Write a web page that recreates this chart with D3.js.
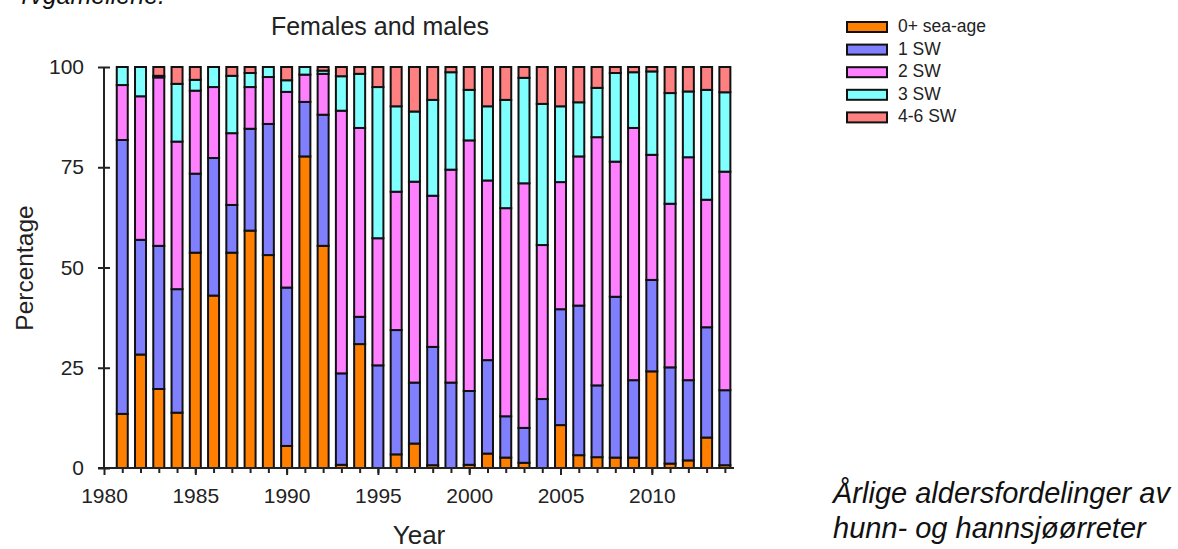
<!DOCTYPE html>
<html>
<head>
<meta charset="utf-8">
<script src="https://cdn.jsdelivr.net/npm/d3@7"></script>
<style>
html, body { margin: 0; padding: 0; background: #fff; }
svg { display: block; font-family: "Liberation Sans", Arial, sans-serif; }
</style>
</head>
<body>
<svg id="chart" width="1178" height="549"></svg>
<script>
const years = d3.range(1981, 2015);
const seriesNames = ["0+ sea-age", "1 SW", "2 SW", "3 SW", "4-6 SW"];
const seriesColors = ["#FF8000", "#8080FF", "#FF80FF", "#80FFFF", "#FF8080"];
const sea0 = [13.5, 28.3, 19.7, 13.8, 53.7, 43.0, 53.7, 59.2, 53.1, 5.5, 77.7, 55.4, 0.8, 30.9, 0, 3.4, 6.1, 0.7, 0, 0.8, 3.6, 2.6, 1.3, 0, 10.7, 3.2, 2.7, 2.6, 2.6, 24.1, 1.1, 1.9, 7.6, 0.7];
const sw1 = [68.3, 28.6, 35.7, 30.8, 19.7, 34.3, 11.9, 25.4, 32.7, 39.5, 13.6, 32.7, 22.8, 6.8, 25.6, 31.0, 15.2, 29.5, 21.3, 18.4, 23.3, 10.3, 8.7, 17.2, 28.9, 37.3, 17.9, 40.1, 19.3, 22.8, 24.0, 20.0, 27.5, 18.7];
const sw2 = [13.7, 35.8, 42.0, 36.8, 20.7, 17.7, 17.9, 10.4, 11.7, 48.8, 6.8, 10.2, 65.5, 47.1, 31.7, 34.5, 50.1, 37.7, 53.1, 62.5, 44.8, 51.9, 61.0, 38.4, 31.7, 37.2, 61.9, 33.7, 62.9, 31.2, 40.8, 55.6, 31.8, 54.5];
const sw3 = [4.5, 7.3, 0.4, 14.4, 2.7, 5.0, 14.3, 3.5, 2.5, 2.9, 1.9, 0.8, 8.6, 13.5, 37.7, 21.3, 17.5, 23.9, 24.3, 12.6, 18.5, 27.0, 26.3, 35.2, 18.9, 13.5, 12.3, 22.1, 13.9, 20.8, 27.6, 16.4, 27.4, 19.8];
const sw46 = [0, 0, 2.2, 4.2, 3.2, 0, 2.2, 1.5, 0, 3.3, 0, 0.9, 2.3, 1.7, 5.0, 9.8, 11.1, 8.2, 1.3, 5.7, 9.8, 8.2, 2.7, 9.2, 9.8, 8.8, 5.2, 1.5, 1.3, 1.1, 6.5, 6.1, 5.7, 6.3];
const majorTicks = [1980, 1985, 1990, 1995, 2000, 2005, 2010];
const yTicks = [0, 25, 50, 75, 100];

const keys = ["sea0", "sw1", "sw2", "sw3", "sw46"];
const table = years.map((yr, i) => ({ year: yr, sea0: sea0[i], sw1: sw1[i], sw2: sw2[i], sw3: sw3[i], sw46: sw46[i] }));

const svg = d3.select("#chart");
const x = d3.scaleLinear().domain([1980, 2014.5]).range([104, 734]);
const y = d3.scaleLinear().domain([0, 100]).range([468, 67]);
const color = d3.scaleOrdinal().domain(keys).range(seriesColors);

// top-left text (cut off at the top edge, as in the source page)
svg.append("text").attr("x", 165).attr("y", 4).attr("text-anchor", "end")
  .attr("font-size", 25).attr("font-style", "italic").attr("fill", "#111")
  .text("rvgamellene.");

// title
svg.append("text").attr("x", 380).attr("y", 35).attr("text-anchor", "middle")
  .attr("font-size", 25).attr("fill", "#222").text("Females and males");

// bars
const stacked = d3.stack().keys(keys)(table);
const barW = 11;
const layers = svg.append("g").selectAll("g").data(stacked).join("g")
  .attr("fill", d => color(d.key));
layers.selectAll("rect").data(d => d.filter(s => s[1] - s[0] > 0)).join("rect")
  .attr("x", d => x(d.data.year) - barW / 2)
  .attr("width", barW)
  .attr("y", d => y(d[1]))
  .attr("height", d => y(d[0]) - y(d[1]))
  .attr("stroke", "#111").attr("stroke-width", 2);

// axes
const axisColor = "#222";
const gx = svg.append("g").attr("transform", `translate(0,${y(0)})`);
gx.call(d3.axisBottom(x).tickValues(years).tickSize(5).tickFormat("").tickSizeOuter(0));
gx.append("g").call(d3.axisBottom(x).tickValues(majorTicks).tickSize(7).tickPadding(13).tickFormat(d3.format("d")).tickSizeOuter(0));
gx.selectAll(".domain").remove();
gx.append("line").attr("x1", x(1980) - 6).attr("x2", x(2014.5)).attr("stroke", axisColor).attr("stroke-width", 2);
gx.selectAll(".tick line").attr("stroke", axisColor).attr("stroke-width", 2);
gx.selectAll(".tick text").attr("font-size", 21).attr("fill", "#222").attr("font-family", "Liberation Sans, Arial, sans-serif");

const gy = svg.append("g").attr("transform", `translate(${x(1980)},0)`);
gy.call(d3.axisLeft(y).tickValues(yTicks).tickSize(6).tickPadding(14).tickSizeOuter(0));
gy.selectAll(".domain").remove();
gy.append("line").attr("y1", y(0)).attr("y2", y(100)).attr("stroke", axisColor).attr("stroke-width", 2);
gy.selectAll(".tick line").attr("x1", 6).attr("x2", -6).attr("stroke", axisColor).attr("stroke-width", 2);
gy.selectAll(".tick text").attr("font-size", 21).attr("fill", "#222").attr("font-family", "Liberation Sans, Arial, sans-serif");

// axis titles
svg.append("text").attr("x", 419).attr("y", 544).attr("text-anchor", "middle")
  .attr("font-size", 26).attr("fill", "#222").text("Year");
svg.append("text").attr("transform", `translate(33,268) rotate(-90)`).attr("text-anchor", "middle")
  .attr("font-size", 24.5).attr("fill", "#222").text("Percentage");

// legend
const legend = svg.append("g").attr("transform", "translate(847,22)");
const li = legend.selectAll("g").data(keys).join("g")
  .attr("transform", (d, i) => `translate(0,${i * 22.6})`);
li.append("rect").attr("width", 40).attr("height", 10)
  .attr("fill", d => color(d)).attr("stroke", "#111").attr("stroke-width", 2);
li.append("text").attr("x", 51).attr("y", 10).attr("font-size", 17.5).attr("fill", "#222")
  .text((d, i) => seriesNames[i]);

// bottom-right caption
svg.append("text").attr("x", 833).attr("y", 503).attr("font-size", 29).attr("font-style", "italic")
  .attr("fill", "#111").text("Årlige aldersfordelinger av");
svg.append("text").attr("x", 833).attr("y", 538).attr("font-size", 29).attr("font-style", "italic")
  .attr("fill", "#111").text("hunn- og hannsjøørreter");
</script>
</body>
</html>
